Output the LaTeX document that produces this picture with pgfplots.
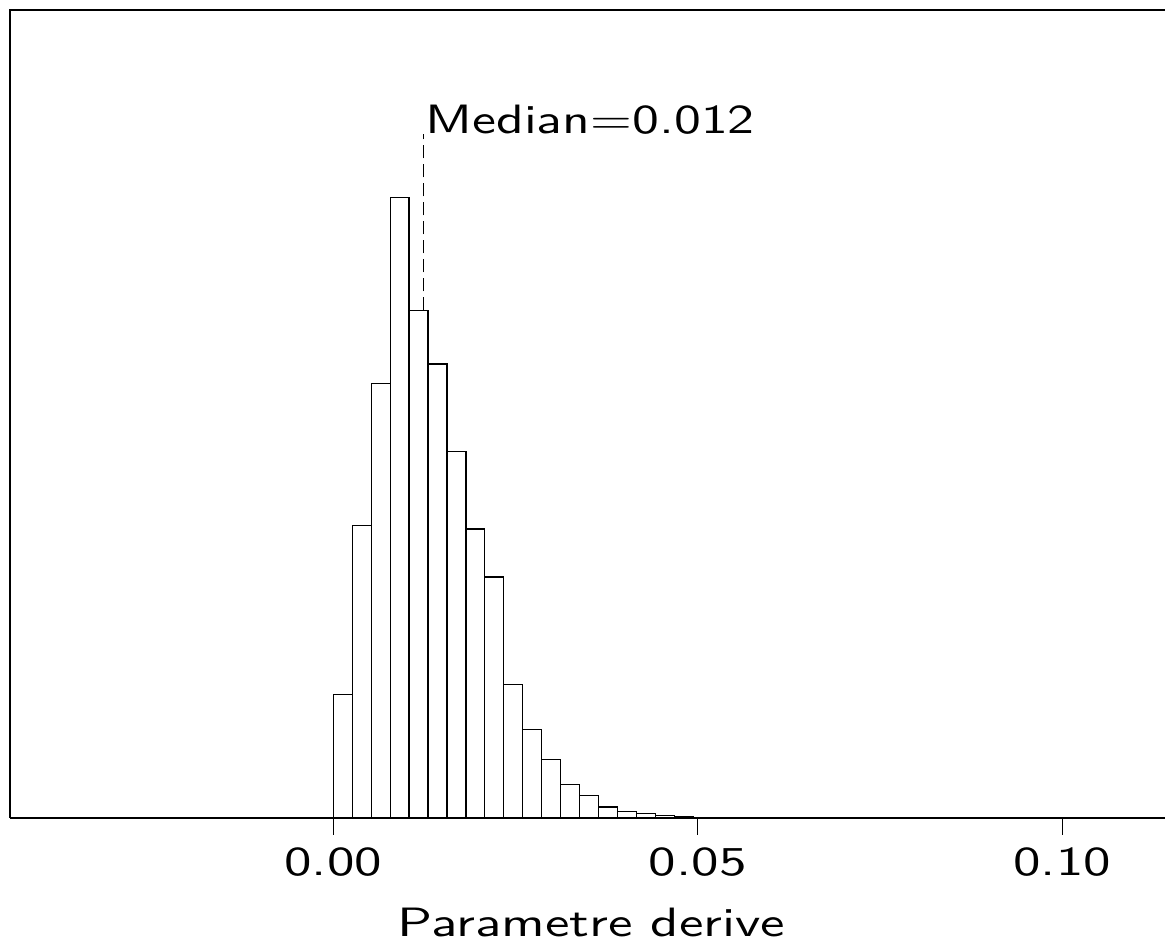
\documentclass[border=0pt]{standalone}
\usepackage{fontspec}
\newfontfamily\rsf{lmsans10-regular.otf}
\usepackage{graphicx}
\usepackage{pgfplots}
\pgfplotsset{compat=1.18}
\newcommand\hs[1]{\scalebox{1.34}[1]{#1}}
\begin{document}
\begin{tikzpicture}
\path[use as bounding box] (-5pt,-63.5pt) rectangle (577.5pt,409pt);
\begin{axis}[
  at={(0,0)}, anchor=south west,
  scale only axis,
  width=577.5pt, height=404pt,
  xmin=-0.04436, xmax=0.11412,
  ymin=0, ymax=808,
  axis x line=bottom,
  axis y line=none,
  axis line style={-, line width=0.6pt},
  x axis line style={-},
  xtick={0,0.05,0.1},
  xticklabels={\hs{0.00},\hs{0.05},\hs{0.10}},
  tick align=outside,
  major tick length=8.5pt,
  tick style={black, line width=0.6pt},
  xticklabel style={anchor=north, inner sep=0pt, yshift=-6pt, font=\rsf\fontsize{20.5}{24}\selectfont},
  xlabel={\hs{Parametre derive}},
  xlabel style={at={(axis description cs:0.5,0)}, anchor=base, yshift=-59.5pt, xshift=2pt, inner sep=0pt, font=\rsf\fontsize{20.5}{24}\selectfont},
  clip=false,
]
\addplot[ybar interval, fill=white, draw=black, line width=0.6pt] coordinates {
(0.0000,123.7) (0.0026,292.3) (0.0052,434.3) (0.0078,620.7) (0.0104,507.7)
(0.0130,454) (0.0156,366.3) (0.0182,289) (0.0208,241) (0.0234,133.7)
(0.0260,88.7) (0.0286,58.7) (0.0312,33.7) (0.0338,22.3) (0.0364,11)
(0.0390,6.3) (0.0416,4.3) (0.0442,2.3) (0.0468,1.3) (0.0494,0.8)
(0.0520,0.4) (0.0546,0.2) (0.0572,0.2)
};
\addplot[black, line width=0.7pt, dash pattern=on 6.5pt off 3pt] coordinates {(0.0124,507.7) (0.0124,684)};
\node[anchor=base west, inner sep=0pt, font=\rsf\fontsize{20.5}{24}\selectfont] at (axis cs:0.0126,684.7) {\scalebox{1.31}[1]{Median=0.012}};
\draw[line width=0.6pt] (rel axis cs:0,0) |- (rel axis cs:1,1);
\end{axis}
\end{tikzpicture}
\end{document}
